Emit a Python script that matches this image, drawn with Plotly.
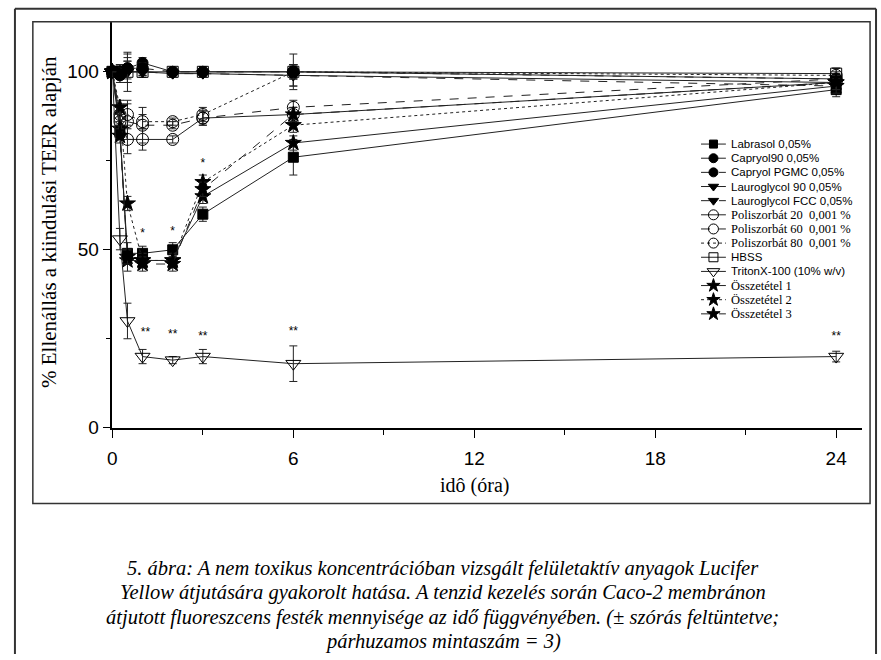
import plotly.graph_objects as go

# ---------------- data ----------------
t = [0, 0.25, 0.5, 1, 2, 3, 6, 24]

series_names = [
    "Labrasol 0,05%", "Capryol90 0,05%", "Capryol PGMC 0,05%",
    "Lauroglycol 90 0,05%", "Lauroglycol FCC 0,05%",
    "Poliszorbát 20\u00a0\u00a00,001 %", "Poliszorbát 60\u00a0\u00a00,001 %",
    "Poliszorbát 80\u00a0\u00a00,001 %", "HBSS", "TritonX-100 (10% w/v)",
    "Összetétel 1", "Összetétel 2", "Összetétel 3",
]

labrasol      = [100, 83, 49, 49, 50, 60, 76, 95]
labrasol_sd   = [0, 2, 3, 2, 2, 2, 5, 2]
capryol90     = [100, 100, 101, 102.5, 100, 100, 100, 98]
capryol90_sd  = [0, 2, 4, 1.5, 1, 1, 2, 1.5]
capryolpg     = [100, 99, 101, 101, 100, 100, 100, 98]
capryolpg_sd  = [0, 2, 3, 1.5, 1, 1, 2, 1.5]
lauro90       = [100, 100, 100, 100, 99.5, 99.5, 99, 97]
lauro90_sd    = [0, 2, 3, 1, 1, 1, 3, 2]
laurofcc      = [100, 100, 100, 100, 99.5, 99.5, 99, 96]
laurofcc_sd   = [0, 2, 3, 1, 1, 1, 3, 2]
poli20        = [100, 87, 81, 81, 81, 87, 88, 97]
poli20_sd     = [0, 3, 4, 3, 1, 2, 2, 2]
poli60        = [100, 88, 86, 85, 85, 87, 90, 98]
poli60_sd     = [0, 3, 5, 5, 1, 2, 2, 2]
poli80        = [100, 86, 88, 86, 86, 88, 100, 99]
poli80_sd     = [0, 3, 4, 2, 1, 2, 2, 2]
hbss          = [100, 100, 100, 100, 100, 100, 100, 99.5]
hbss_sd       = [0, 2, 5.5, 1.5, 1, 1.5, 5, 1.5]
triton        = [100, 53, 30, 20, 19, 20, 18, 20]
triton_sd     = [0, 3, 5, 2, 1, 2, 5, 1.5]
ossz1         = [100, 84, 47, 47, 47, 65, 80, 96]
ossz1_sd      = [0, 2, 3, 2, 2, 2, 2, 2]
ossz2         = [100, 90, 63, 47, 47, 69, 85, 97]
ossz2_sd      = [0, 2, 2, 2, 2, 2, 2, 2]
ossz3         = [100, 82, 48, 46, 46, 67, 88, 97]
ossz3_sd      = [0, 2, 2, 2, 2, 2, 2, 2]

sig1_x = [1, 2, 3]
sig1_y = [54.5, 55, 74]
sig2_x = [1.1, 2, 3, 6, 24]
sig2_y = [26.5, 26, 25.5, 27, 25.5]

caption_lines = [
    "5. ábra: A nem toxikus koncentrációban vizsgált felületaktív anyagok Lucifer",
    "Yellow átjutására gyakorolt hatása. A tenzid kezelés során Caco-2 membránon",
    "átjutott fluoreszcens festék mennyisége az idő függvényében. (± szórás feltüntetve;",
    "párhuzamos mintaszám = 3)",
]

values = [labrasol, capryol90, capryolpg, lauro90, laurofcc, poli20, poli60,
          poli80, hbss, triton, ossz1, ossz2, ossz3]
errors = [labrasol_sd, capryol90_sd, capryolpg_sd, lauro90_sd, laurofcc_sd,
          poli20_sd, poli60_sd, poli80_sd, hbss_sd, triton_sd, ossz1_sd,
          ossz2_sd, ossz3_sd]

# ---------------- styles ----------------
styles = [
    ("square", 10, "solid"),
    ("circle", 11, "solid"),
    ("circle", 11, "dash"),
    ("triangle-down", 11, "solid"),
    ("triangle-down", 11, "dash"),
    ("circle-open", 12, "solid"),
    ("circle-open", 12, "dash"),
    ("circle-open", 12, "dot"),
    ("square-open", 11, "solid"),
    ("triangle-down-open", 13, "solid"),
    ("star", 12, "solid"),
    ("star", 12, "dot"),
    ("star", 12, "dash"),
]
serif_entries = {5, 6, 7, 10, 11, 12}
SERIF = "Liberation Serif, Times New Roman, Times, serif"
SANS = "Liberation Sans, Arial, Helvetica, sans-serif"

W, H = 881, 660
def px(x):
    return x / W
def py(y):
    return (H - y) / H

fig = go.Figure()

order = [5, 6, 7, 8, 3, 4, 1, 2, 0, 10, 11, 12, 9]
for i in order:
    sym, size, dash = styles[i]
    fig.add_trace(go.Scatter(
        x=t, y=values[i], mode="lines+markers", name=series_names[i],
        line=dict(color="#222", width=1, dash=dash),
        marker=dict(symbol=sym, size=size, color="black",
                    line=dict(color="black", width=1)),
        error_y=dict(type="data", array=errors[i], visible=True,
                     color="#222", thickness=1, width=4),
        cliponaxis=False, showlegend=False,
    ))

# significance markers
for xs, ys, txt in [(sig1_x, sig1_y, "*"), (sig2_x, sig2_y, "**")]:
    fig.add_trace(go.Scatter(
        x=xs, y=ys, mode="text", text=[txt] * len(xs),
        textfont=dict(family=SANS, size=12, color="black"),
        showlegend=False, cliponaxis=False,
    ))

# ---------------- custom compact legend (on its own hidden axes) -------------
n = len(series_names)
for i in range(n):
    sym, size, dash = styles[i]
    fig.add_trace(go.Scatter(
        x=[0, 25], y=[i, i], mode="lines", xaxis="x2", yaxis="y2",
        line=dict(color="#222", width=1, dash=dash), showlegend=False,
        hoverinfo="skip"))
    fig.add_trace(go.Scatter(
        x=[12.5], y=[i], mode="markers", xaxis="x2", yaxis="y2",
        marker=dict(symbol=sym, size=size - 2, color="black",
                    line=dict(color="black", width=1)),
        showlegend=False, hoverinfo="skip", cliponaxis=False))

annotations = []
for i in range(n):
    serif = i in serif_entries
    annotations.append(dict(
        x=28, y=i, xref="x2", yref="y2", text=series_names[i],
        showarrow=False, xanchor="left", yanchor="middle",
        font=dict(family=SERIF if serif else SANS,
                  size=12.5 if serif else 11.5, color="black")))

# axis titles
annotations.append(dict(
    x=px(472), y=py(494), xref="paper", yref="paper", text="idô (óra)",
    showarrow=False, xanchor="center", yanchor="middle",
    font=dict(family=SERIF, size=20, color="black")))
annotations.append(dict(
    x=px(44), y=py(226), xref="paper", yref="paper",
    text="% Ellenállás a kiindulási TEER alapján", textangle=-90,
    showarrow=False, xanchor="center", yanchor="middle",
    font=dict(family=SERIF, size=21, color="black")))

# caption, one annotation per line
cap_y = [578, 603, 628, 652]
for line, yy in zip(caption_lines, cap_y):
    annotations.append(dict(
        x=px(440), y=py(yy), xref="paper", yref="paper",
        text="<i>" + line + "</i>",
        showarrow=False, xanchor="center", yanchor="middle",
        font=dict(family=SERIF, size=20.5, color="black")))

shapes = [
    dict(type="rect", xref="paper", yref="paper",
         x0=px(28), x1=px(870), y0=py(512), y1=py(22),
         line=dict(color="#333", width=1.5)),
    dict(type="line", xref="paper", yref="paper",
         x0=px(10), x1=px(10), y0=py(9), y1=py(665),
         line=dict(color="#333", width=2)),
    dict(type="line", xref="paper", yref="paper",
         x0=px(10), x1=px(876), y0=py(9), y1=py(9),
         line=dict(color="#333", width=2)),
    dict(type="line", xref="paper", yref="paper",
         x0=px(876), x1=px(876), y0=py(9), y1=py(665),
         line=dict(color="#333", width=2)),
]

axis_common = dict(
    showline=True, linecolor="black", linewidth=1.5, showgrid=False,
    zeroline=False, ticks="outside", ticklen=8, tickwidth=1.2,
    tickcolor="black", mirror=False,
    tickfont=dict(family=SANS, size=19, color="black"),
)

fig.update_layout(
    width=W, height=H, margin=dict(l=0, r=0, t=0, b=0),
    paper_bgcolor="white", plot_bgcolor="white",
    xaxis=dict(domain=[px(108), px(862)], range=[0, 24.86],
               tickmode="array", tickvals=[0, 6, 12, 18, 24],
               ticklabelstandoff=5,
               minor=dict(tickvals=[3, 9, 15, 21], ticklen=5,
                          ticks="outside", tickcolor="black"),
               anchor="y", **axis_common),
    yaxis=dict(domain=[py(435), py(22)], range=[0, 114.1],
               tickmode="array", tickvals=[0, 50, 100],
               minor=dict(tickvals=[25, 75], ticklen=5,
                          ticks="outside", tickcolor="black"),
               anchor="x", **axis_common),
    xaxis2=dict(domain=[px(700), px(860)], range=[0, 160], visible=False,
                anchor="y2", fixedrange=True),
    yaxis2=dict(domain=[py(146 + 13.5 * 13.36), py(146 - 0.5 * 13.36)],
                range=[n - 0.5, -0.5], visible=False, anchor="x2",
                fixedrange=True),
    annotations=annotations, shapes=shapes, showlegend=False,
)

fig.write_html("out.html")
